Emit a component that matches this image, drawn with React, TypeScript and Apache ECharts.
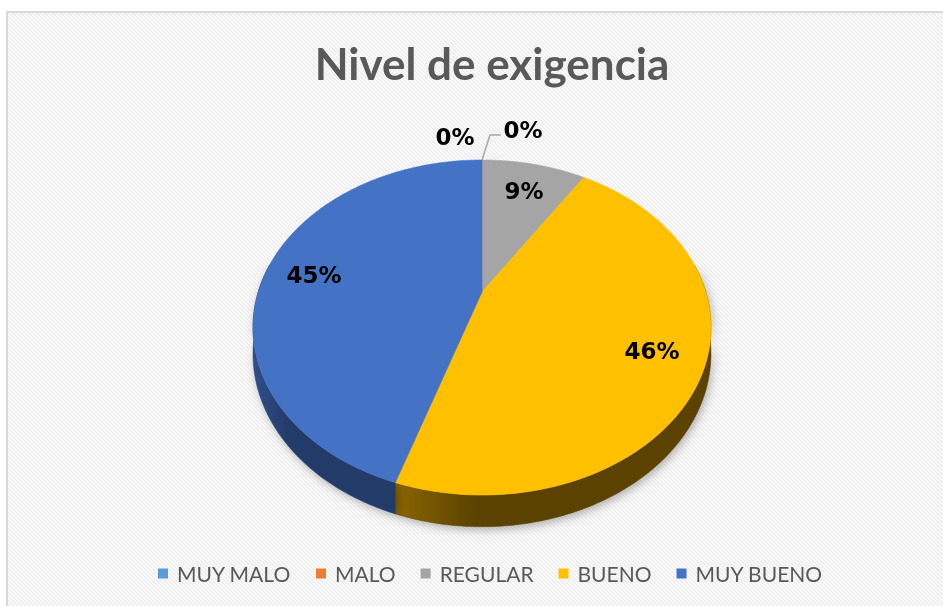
import React, { useEffect, useRef } from 'react';
import * as echarts from 'echarts';

const categories = ['MUY MALO', 'MALO', 'REGULAR', 'BUENO', 'MUY BUENO'];
const values = [0, 0, 9, 46, 45];
const labels = ['0%', '0%', '9%', '46%', '45%'];
const topColors = ['#5B9BD5', '#ED7D31', '#A5A5A5', '#FFC000', '#4472C4'];
const sideColorsA = ['#3a6d99', '#a8561f', '#707070', '#8a6600', '#2f4f8d'];
const sideColorsB = ['#2f5a80', '#8a4619', '#5a5a5a', '#5c4300', '#233b69'];
const titleText = 'Nivel de exigencia';

// geometry of the tilted pie (perspective projection)
const CX = 482;
const CY = 292;
const RX = 223.8;
const RY = 160;
const K = 0.212;
const DEPTH = 25;

function proj(theta: number, r: number): [number, number] {
  const u = r * Math.sin(theta);
  const v = -r * Math.cos(theta);
  const w = 1 - K * v;
  return [CX + (RX * u) / w, CY + (RY * v) / w];
}
function depthAt(theta: number): number {
  const v = -Math.cos(theta);
  return DEPTH / (1 - K * v);
}

const total = values.reduce((a, b) => a + b, 0);
const starts: number[] = [];
const ends: number[] = [];
{
  let c = 0;
  values.forEach((v) => {
    starts.push((c / total) * Math.PI * 2);
    c += v;
    ends.push((c / total) * Math.PI * 2);
  });
}

function arcPts(a0: number, a1: number, r: number): [number, number][] {
  const pts: [number, number][] = [];
  const n = Math.max(2, Math.ceil(((a1 - a0) * 180) / Math.PI));
  for (let i = 0; i <= n; i++) pts.push(proj(a0 + ((a1 - a0) * i) / n, r));
  return pts;
}

function makePattern(): any {
  const c = document.createElement('canvas');
  c.width = 8;
  c.height = 8;
  const ctx = c.getContext('2d');
  if (ctx) {
    ctx.fillStyle = '#ffffff';
    ctx.fillRect(0, 0, 8, 8);
    ctx.strokeStyle = '#efefef';
    ctx.lineWidth = 2;
    for (let k = -8; k <= 16; k += 4) {
      ctx.beginPath();
      ctx.moveTo(k, 0);
      ctx.lineTo(k + 8, 8);
      ctx.stroke();
    }
  }
  return { image: c, repeat: 'repeat' };
}

export default function App() {
  const ref = useRef<HTMLDivElement>(null);
  useEffect(() => {
    if (!ref.current) return;
    const chart = echarts.init(ref.current, null, { renderer: 'svg' });
    const data = values.map((v, i) => ({ value: v, name: categories[i] }));
    const FONT = "'DejaVu Sans', Arial, sans-serif";
    const LFONT = `bold 23px ${FONT}`;

    const renderSide = (params: any) => {
      const i = params.dataIndex;
      const a0 = Math.max(starts[i], (80 * Math.PI) / 180);
      const a1 = Math.min(ends[i], (280 * Math.PI) / 180);
      if (a1 <= a0) return { type: 'group', children: [] };
      const top = arcPts(a0, a1, 1);
      const n = top.length - 1;
      const bottom: [number, number][] = [];
      for (let k = n; k >= 0; k--) {
        const th = a0 + ((a1 - a0) * k) / n;
        bottom.push([top[k][0], top[k][1] + depthAt(th)]);
      }
      return {
        type: 'polygon',
        shape: { points: top.concat(bottom) },
        style: {
          fill: new echarts.graphic.LinearGradient(0, 0, 1, 0, [
            { offset: 0, color: sideColorsA[i] },
            { offset: 0.25, color: sideColorsB[i] },
            { offset: 1, color: sideColorsB[i] },
          ]),
          stroke: sideColorsB[i],
          lineWidth: 0.5,
          shadowBlur: 8,
          shadowColor: 'rgba(0,0,0,0.28)',
          shadowOffsetX: 2,
          shadowOffsetY: 3,
        },
      };
    };

    const renderTop = (params: any) => {
      const i = params.dataIndex;
      const a0 = starts[i];
      const a1 = ends[i];
      const children: any[] = [];
      const textStyle = (s: string) => ({ text: s, font: LFONT, fill: '#000000', align: 'center', verticalAlign: 'middle' });
      if (a1 > a0) {
        const pts = [proj(0, 0) as [number, number]].concat(arcPts(a0, a1, 1));
        children.push({
          type: 'polygon',
          shape: { points: pts },
          style: { fill: topColors[i], stroke: topColors[i], lineWidth: 0.6 },
        });
        const mid = (a0 + a1) / 2;
        const p = proj(mid, 0.78);
        children.push({ type: 'text', x: p[0], y: p[1] + 2, z2: 10, style: textStyle(labels[i]) });
      } else {
        const t = proj(a0, 1);
        if (i === 0) {
          children.push({ type: 'text', x: t[0] - 27, y: t[1] - 23, z2: 10, style: textStyle(labels[i]) });
        } else {
          children.push({
            type: 'polyline',
            shape: { points: [t, [t[0] + 8, t[1] - 25], [t[0] + 19, t[1] - 25]] },
            style: { stroke: '#a6a6a6', lineWidth: 1.5, fill: 'none' },
          });
          children.push({ type: 'text', x: t[0] + 41, y: t[1] - 30, z2: 10, style: textStyle(labels[i]) });
        }
      }
      return { type: 'group', children };
    };

    chart.setOption({
      animation: false,
      graphic: [
        {
          type: 'rect',
          z: -10,
          shape: { x: 7, y: 12, width: 1000, height: 700 },
          style: { fill: makePattern(), stroke: '#d9d9d9', lineWidth: 2 },
          silent: true,
        },
        {
          type: 'text',
          x: 492,
          y: 63,
          style: {
            text: titleText,
            font: "bold 44px Lato, 'Open Sans', sans-serif",
            fill: '#595959',
            align: 'center',
            verticalAlign: 'middle',
          },
        },
      ],
      legend: {
        data: categories,
        bottom: 17,
        left: 153,
        icon: 'rect',
        itemWidth: 10,
        itemHeight: 10,
        itemGap: 25,
        selectedMode: false,
        textStyle: { fontSize: 21, fontFamily: 'Lato, sans-serif', color: '#595959', padding: [0, 0, 0, 4] },
      },
      series: [
        {
          type: 'pie',
          center: [-2000, -2000],
          radius: 5,
          silent: true,
          label: { show: false },
          labelLine: { show: false },
          data: values.map((v, i) => ({ value: v, name: categories[i], itemStyle: { color: topColors[i] } })),
        },
        {
          type: 'custom',
          coordinateSystem: 'none',
          z: 2,
          silent: true,
          renderItem: renderSide,
          data,
        },
        {
          type: 'custom',
          coordinateSystem: 'none',
          z: 3,
          silent: true,
          renderItem: renderTop,
          data,
        },
      ],
    });
    return () => chart.dispose();
  }, []);
  return <div ref={ref} style={{ position: 'fixed', left: 0, top: 0, width: 943, height: 606 }} />;
}
